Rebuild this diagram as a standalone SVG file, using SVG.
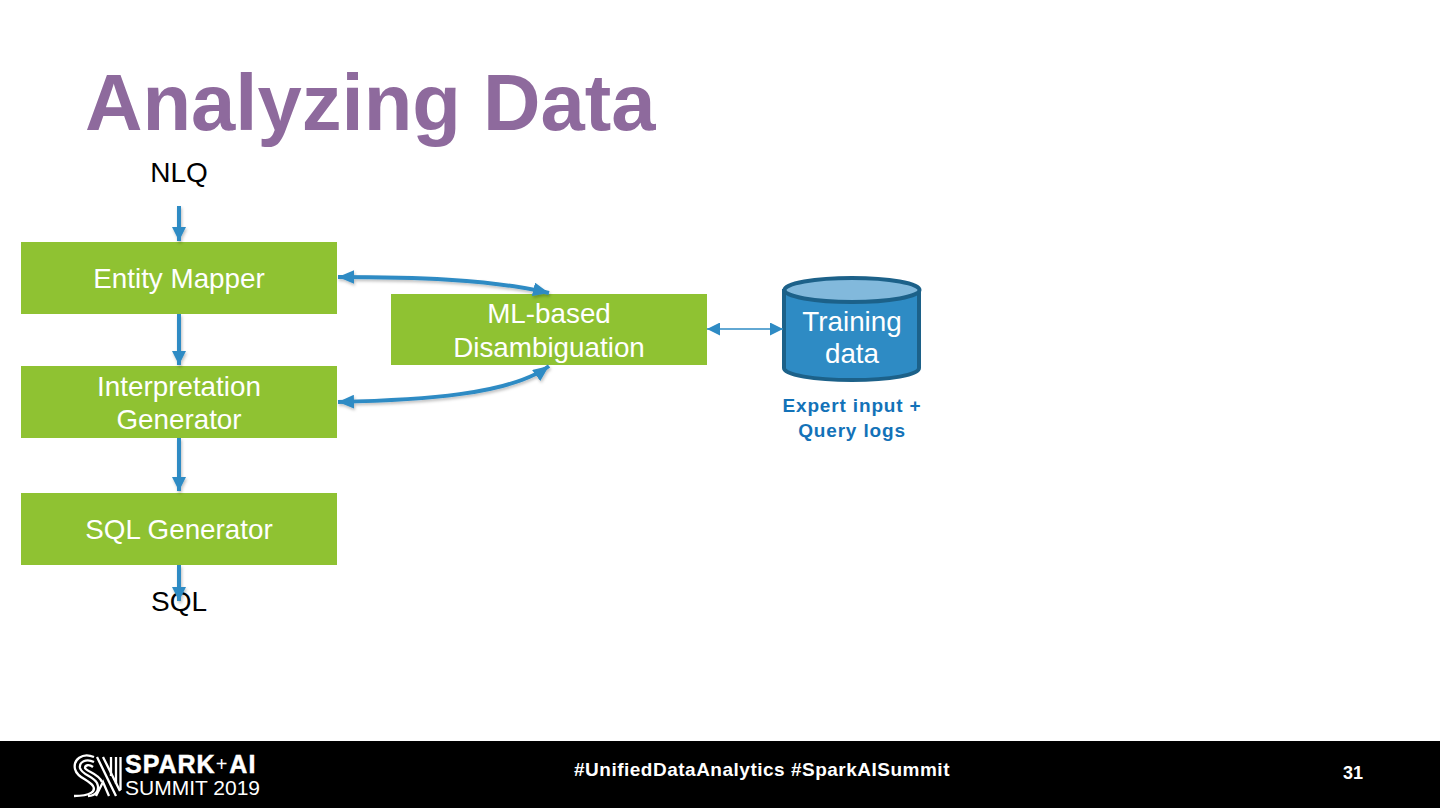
<svg xmlns="http://www.w3.org/2000/svg" width="1440" height="811" viewBox="0 0 1440 811">
<style>
text{font-family:"Liberation Sans",Arial,sans-serif}
.box{fill:#8fc232}
.bt{fill:#fff;font-size:27.8px;text-anchor:middle}
.lb{fill:#000;font-size:28px;text-anchor:middle}
.c{fill:none;stroke:#2e8bc4;stroke-width:4}
.t{fill:none;stroke:#2e8bc4;stroke-width:1.5}
.m{fill:none;stroke:#fff;stroke-width:2.3}
</style>
<defs>
<marker id="a" markerUnits="userSpaceOnUse" markerWidth="14" markerHeight="14" refX="12" refY="6" orient="auto-start-reverse" viewBox="0 0 12 12"><path d="M0,0L12,6L0,12z" fill="#2e8bc4"/></marker>
<marker id="b" markerUnits="userSpaceOnUse" markerWidth="16" markerHeight="14" refX="14" refY="6" orient="auto-start-reverse" viewBox="0 0 14 12"><path d="M0,0L14,6L0,12z" fill="#2e8bc4"/></marker>
<marker id="s" markerUnits="userSpaceOnUse" markerWidth="13" markerHeight="13" refX="12" refY="6" orient="auto-start-reverse" viewBox="0 0 12 12"><path d="M0,0L12,6L0,12z" fill="#2e8bc4"/></marker>
<filter id="sh" x="-10%" y="-30%" width="120%" height="160%"><feDropShadow dx="1" dy="2" stdDeviation="1.5" flood-color="#000" flood-opacity=".25"/></filter>
</defs>
<rect width="1440" height="811" fill="#fff"/>
<rect id="footer" x="0" y="741" width="1440" height="67" fill="#000"/>
<text id="title" x="85" y="130" font-size="79.6" font-weight="700" fill="#8e6a9d">Analyzing Data</text>
<g id="nlq"><text class="lb" x="179" y="182">NLQ</text></g>
<g id="entity-mapper"><rect class="box" x="21" y="242" width="316" height="72"/><text class="bt" x="179" y="288">Entity Mapper</text></g>
<g id="interpretation-generator"><rect class="box" x="21" y="366" width="316" height="72"/><text class="bt" x="179" y="396">Interpretation</text><text class="bt" x="179" y="429">Generator</text></g>
<g id="sql-generator"><rect class="box" x="21" y="493" width="316" height="72"/><text class="bt" x="179" y="539">SQL Generator</text></g>
<g id="ml-disambiguation"><rect class="box" x="391" y="294" width="316" height="71"/><text class="bt" x="549" y="323">ML-based</text><text class="bt" x="549" y="357">Disambiguation</text></g>
<g id="training-data">
<path d="M784,291V368C784,375 814,380 852,380S919,375 919,368V291z" fill="#2e8bc4" stroke="#1c6189" stroke-width="4"/>
<ellipse cx="852" cy="290" rx="67.500" ry="12" fill="#82b9dc" stroke="#1c6189" stroke-width="4"/>
<text class="bt" x="852" y="331">Training</text><text class="bt" x="852" y="363">data</text>
</g>
<g id="training-caption" fill="#1372b8" font-size="19" font-weight="700" text-anchor="middle" letter-spacing=".85"><text x="852" y="412">Expert input +</text><text x="852" y="437">Query logs</text></g>
<g id="sql"><text class="lb" x="179" y="611">SQL</text></g>
<g id="connectors" filter="url(#sh)">
<path class="c" marker-end="url(#a)" d="M179,206V241"/>
<path class="c" marker-end="url(#a)" d="M179,314V365"/>
<path class="c" marker-end="url(#a)" d="M179,438V491"/>
<path class="c" marker-end="url(#a)" d="M179,565V601"/>
<path class="c" marker-start="url(#b)" marker-end="url(#b)" d="M338,277C410,277 490,279 549,293"/>
<path class="c" marker-start="url(#b)" marker-end="url(#b)" d="M338,402C420,400 510,395 549,366"/>
</g>
<g id="connector-thin"><path class="t" marker-start="url(#s)" marker-end="url(#s)" d="M707,329H783"/></g>
<g id="logo">
<path class="m" d="M94,757C82,752 73,760 75,769C77,778 88,779 93,786C96,791 91,796 74,796"/>
<path class="m" d="M94,762C86,758 79,762 80,768C82,775 93,776 97,783C100,790 96,796 88,796"/>
<path class="m" d="M93,767C89,764 85,765 85,768C87,772 98,773 102,782"/>
<path class="m" d="M97,757L116,796M103,757L120,791M96,796L103,782L109,796"/>
<path class="m" d="M111,757V776M116,757V784"/>
<path class="m" d="M120.500,757V790"/>
<text x="125" y="773" font-size="25" font-weight="700" fill="#fff" stroke="#fff" stroke-width=".5" letter-spacing="1">SPARK<tspan font-size="20" font-weight="400" stroke="none" dy="-2">+</tspan><tspan dx="1" dy="2">AI</tspan></text>
<text x="125" y="795" font-size="21" fill="#fff">SUMMIT 2019</text>
</g>
<g id="footer-text" fill="#fff" font-weight="700">
<text x="762" y="776" font-size="19" letter-spacing=".5" text-anchor="middle">#UnifiedDataAnalytics #SparkAISummit</text>
<text x="1353" y="779" font-size="18" text-anchor="middle">31</text>
</g>
</svg>
